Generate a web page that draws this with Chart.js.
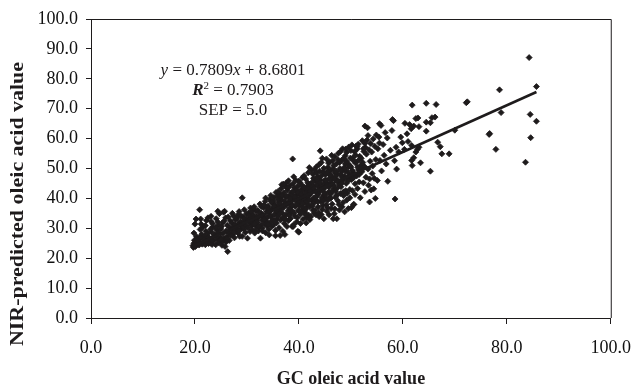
<!DOCTYPE html>
<html>
<head>
<meta charset="utf-8">
<script src="https://cdn.jsdelivr.net/npm/chart.js@4.4.1/dist/chart.umd.min.js"></script>
<style>
  html, body { margin: 0; padding: 0; background: #fff; }
  #wrap { width: 644px; height: 386px; position: relative; }
</style>
</head>
<body>
<div id="wrap"><canvas id="oleicChart"></canvas></div>
<script>
// Axis ticks
const xTicks = [0, 20, 40, 60, 80, 100];
const yTicks = [0, 10, 20, 30, 40, 50, 60, 70, 80, 90, 100];

// Regression line as printed on the chart
const trendSlope = 0.7809;
const trendIntercept = 8.6801;
const equationLines = ['y = 0.7809x + 8.6801', 'R2 = 0.7903', 'SEP = 5.0'];

const lowCluster = [
  [19.6,24.2],[19.8,25.0],[19.7,23.6],[20.0,24.6],[19.9,26.0],[20.2,25.3],[20.1,23.9],[19.8,28.4],[20.0,31.4],[20.2,33.1],[20.3,27.2],[20.4,24.9],
  [20.6,25.6],[20.8,24.4],[20.9,26.8],[21.0,25.1],[21.1,33.1],[20.9,36.2],[21.2,31.4],[21.3,28.0],[21.4,24.7],[21.0,29.6],[21.5,26.3],[21.4,30.2],
  [21.7,25.0],[21.9,27.4],[22.0,24.5],[22.1,29.0],[22.3,26.1],[22.2,32.6],[22.4,25.3],[22.5,28.3],[22.0,30.9],[22.6,24.9],[22.5,33.5],
  [22.8,26.7],[23.0,25.0],[23.1,34.0],[23.2,28.8],[23.3,24.6],[23.4,30.4],[23.5,27.1],[23.1,32.3],[23.6,25.8],[23.0,29.7],[23.4,31.5],
  [23.8,27.9],[24.0,24.5],[24.1,33.2],[24.2,29.5],[24.4,35.7],[24.3,26.3],[24.5,31.0],[24.6,25.2],[24.5,28.6],[24.0,30.3],[24.7,34.9],[24.4,32.1],
  [24.9,27.0],[25.0,29.8],[25.2,24.3],[25.3,31.8],[25.5,35.4],[25.4,28.3],[25.6,26.5],[25.7,35.7],[25.8,23.9],[25.9,33.5],[25.1,30.6],[25.6,32.4],[25.3,25.5],
  [26.0,29.1],[26.1,27.2],[26.2,31.0],[26.3,22.2],[26.4,33.8],[26.5,28.5],[26.6,25.9],[26.7,30.2],[26.8,32.5],[26.2,26.6],
  [27.0,29.5],[27.1,31.8],[27.3,27.9],[27.4,34.1],[27.5,30.6],[27.6,26.8],[27.8,32.9],[27.9,29.0],[27.2,35.0],[27.7,31.2],
  [28.0,30.0],[28.1,33.4],[28.3,28.4],[28.4,31.6],[28.5,35.6],[28.6,27.3],[28.8,32.3],[28.9,29.8],[28.2,34.4],[28.7,30.9],
  [29.0,31.2],[29.1,40.2],[29.1,27.3],[29.2,33.9],[29.4,29.7],[29.5,36.2],[29.6,32.5],[29.7,28.6],[29.9,34.8],[29.3,30.5],[29.8,31.0]
];

const midBand = [
  [30.0,33.0],[30.1,26.7],[30.2,30.2],[30.3,35.1],[30.5,31.8],[30.6,28.9],[30.7,36.8],[30.8,33.7],[30.9,30.9],[30.4,34.3],[30.9,32.2],
  [31.0,29.6],[31.1,34.6],[31.3,31.4],[31.4,37.2],[31.5,28.4],[31.6,33.0],[31.7,35.8],[31.8,30.6],[31.9,32.5],[31.2,36.4],[31.6,29.2],
  [32.0,31.9],[32.1,36.0],[32.2,29.1],[32.3,33.8],[32.5,38.1],[32.6,26.7],[32.7,31.0],[32.8,35.0],[32.9,32.7],[32.4,30.3],[32.8,37.3],
  [33.0,30.1],[33.1,34.2],[33.2,36.9],[33.4,31.6],[33.5,39.0],[33.6,28.5],[33.7,33.3],[33.8,35.6],[33.9,30.8],[33.3,37.8],[33.9,32.1],[33.6,40.1],
  [34.0,33.9],[34.1,37.5],[34.2,29.7],[34.3,35.3],[34.4,39.6],[34.5,32.0],[34.6,41.0],[34.7,36.2],[34.8,30.6],[34.9,38.4],[34.3,27.8],[34.6,34.1],[34.9,33.2],
  [35.0,36.6],[35.1,31.1],[35.2,40.3],[35.3,34.6],[35.4,38.0],[35.5,29.3],[35.6,42.0],[35.7,33.0],[35.8,37.1],[35.9,35.4],[35.1,39.2],[35.5,27.5],[35.7,31.8],[35.9,40.8],
  [36.0,34.0],[36.1,38.8],[36.2,30.2],[36.3,41.5],[36.4,36.3],[36.5,32.8],[36.6,43.3],[36.7,39.5],[36.7,44.6],[36.8,35.1],[36.9,29.0],[36.2,37.4],[36.5,40.6],[36.9,33.5],[36.4,27.6],
  [37.0,36.9],[37.1,41.9],[37.2,31.6],[37.3,39.0],[37.3,27.9],[37.4,44.0],[37.5,34.5],[37.6,45.2],[37.6,37.8],[37.7,30.6],[37.8,42.7],[37.9,35.9],[37.1,33.3],[37.5,40.4],[37.9,38.6],
  [38.0,32.6],[38.1,40.9],[38.2,36.7],[38.3,44.3],[38.4,34.9],[38.5,39.3],[38.6,42.0],[38.7,30.6],[38.8,53.2],[38.8,37.7],[38.9,45.0],[38.9,30.6],[38.2,38.5],[38.4,33.3],[38.6,41.3],[38.7,35.8],
  [39.0,39.8],[39.1,43.6],[39.2,34.1],[39.3,37.3],[39.4,46.1],[39.5,41.1],[39.6,32.2],[39.7,38.6],[39.8,29.0],[39.8,44.1],[39.9,36.0],[39.1,35.2],[39.3,40.5],[39.5,42.7],[39.7,33.6],[39.9,39.0],
  [40.0,28.7],[40.0,41.8],[40.1,37.6],[40.2,45.3],[40.3,34.7],[40.4,39.7],[40.5,43.0],[40.6,36.2],[40.7,47.0],[40.8,33.0],[40.9,40.8],[40.2,38.9],[40.4,42.2],[40.6,44.4],[40.8,37.0],[40.9,35.5],[40.3,31.6],
  [41.0,38.6],[41.1,42.9],[41.2,35.3],[41.3,46.5],[41.4,40.2],[41.5,33.6],[41.6,44.0],[41.7,37.5],[41.8,48.6],[41.9,41.4],[41.1,39.6],[41.3,36.4],[41.5,42.1],[41.7,45.2],[41.9,34.4],[41.4,31.8],[41.6,38.1],
  [42.0,41.0],[42.1,37.2],[42.2,44.8],[42.3,33.9],[42.4,49.5],[42.5,39.4],[42.6,42.6],[42.7,36.0],[42.8,46.7],[42.9,40.1],[42.1,32.9],[42.3,43.7],[42.5,38.0],[42.7,48.1],[42.9,35.0],[42.4,41.8],[42.8,44.0],
  [43.0,38.7],[43.1,45.7],[43.2,42.3],[43.3,34.5],[43.4,50.6],[43.5,40.8],[43.6,47.3],[43.7,37.1],[43.8,43.9],[43.9,51.3],[43.1,36.0],[43.3,39.4],[43.5,44.6],[43.7,41.5],[43.9,33.9],[43.4,48.6],[43.8,35.2]
];

const upperBand = [
  [44.0,42.4],[44.1,55.9],[44.1,46.2],[44.2,39.0],[44.3,52.0],[44.4,44.3],[44.5,36.3],[44.6,48.8],[44.7,41.0],[44.8,33.2],[44.9,46.0],[44.2,43.1],[44.4,40.1],[44.6,37.6],[44.8,50.1],[44.3,34.6],[44.9,44.9],[44.0,49.1],
  [45.0,43.6],[45.1,47.9],[45.2,39.9],[45.3,53.2],[45.4,45.1],[45.5,36.9],[45.6,50.4],[45.7,42.1],[45.8,34.5],[45.9,48.0],[45.1,41.2],[45.3,37.9],[45.5,44.4],[45.7,51.8],[45.9,40.5],[45.4,35.7],[45.8,46.6],
  [46.0,45.0],[46.1,49.3],[46.2,41.6],[46.3,54.4],[46.4,38.1],[46.5,47.0],[46.6,33.2],[46.7,51.0],[46.8,43.4],[46.9,36.5],[46.1,40.0],[46.3,46.2],[46.5,52.6],[46.7,44.3],[46.9,48.6],[46.4,42.5],[46.8,34.9],
  [47.0,46.4],[47.1,42.3],[47.2,51.5],[47.3,33.2],[47.4,48.2],[47.5,39.2],[47.6,55.1],[47.7,44.8],[47.8,36.1],[47.9,50.0],[47.1,47.3],[47.3,41.0],[47.5,53.0],[47.7,38.0],[47.9,45.6],[47.4,43.5],
  [48.0,48.0],[48.1,43.9],[48.2,52.7],[48.3,37.2],[48.4,56.6],[48.5,46.1],[48.6,40.9],[48.7,50.3],[48.8,35.5],[48.9,54.3],[48.2,45.0],[48.4,49.2],[48.6,42.2],[48.8,47.5],[48.9,51.6],[48.5,38.6],
  [49.0,49.2],[49.1,45.0],[49.2,55.4],[49.3,41.7],[49.4,51.7],[49.5,36.6],[49.6,57.2],[49.7,47.6],[49.8,43.0],[49.9,53.5],[49.2,39.4],[49.4,46.5],[49.6,50.6],[49.8,40.2],[49.5,48.7],
  [50.0,50.5],[50.1,46.3],[50.2,57.9],[50.3,42.6],[50.4,53.6],[50.5,38.0],[50.6,48.4],[50.7,55.6],[50.8,44.9],[50.9,51.8],[50.1,36.9],[50.6,38.0],[50.3,49.3],[50.8,41.3],[50.5,46.9],
  [51.0,52.2],[51.1,47.5],[51.2,56.5],[51.3,43.3],[51.4,58.1],[51.5,49.6],[51.6,45.5],[51.7,54.1],[51.8,40.2],[51.9,51.0],[51.2,57.3],[51.6,48.0],
  [52.0,53.4],[52.1,48.9],[52.2,59.3],[52.4,45.2],[52.5,55.7],[52.6,50.7],[52.7,42.3],[52.8,57.0],[52.9,47.1],[52.3,52.0],[52.7,58.4],[52.7,64.2],
  [53.0,54.8],[53.1,59.5],[53.2,63.6],[53.3,49.8],[53.4,44.4],[53.5,56.3],[53.6,38.8],[53.7,52.4],[53.8,58.4],[53.9,42.8],[53.3,61.0],[53.6,46.5],
  [54.0,55.5],[54.2,50.8],[54.3,59.9],[54.5,46.7],[54.6,57.4],[54.8,53.0],[54.9,61.2],[54.4,43.2],[54.7,40.0],[54.1,48.3],
  [55.1,46.0],[55.2,56.6],[55.4,60.5],[55.5,65.0],[55.6,52.7],[55.8,64.4],[55.9,49.2],[55.5,58.5]
];

// extra points where the cloud is solid black
const coreFill = [
  [30.3,32.6],[30.8,35.6],[31.4,33.7],[31.9,34.0],[32.4,35.2],[32.9,34.4],[33.3,33.0],[33.8,37.0],[34.2,36.4],[34.7,38.9],
  [35.2,37.2],[35.6,35.9],[36.0,39.7],[36.4,38.2],[36.8,41.0],[37.2,37.9],[37.6,40.8],[37.9,43.6],[38.3,39.8],[38.6,37.6],
  [38.9,42.2],[39.2,40.4],[39.5,38.0],[39.9,42.0],[40.2,40.3],[40.5,41.4],[40.7,38.4],[41.0,43.7],[41.2,41.6],[41.5,39.0],
  [41.8,43.2],[42.0,39.5],[42.2,42.3],[42.6,45.5],[42.9,43.2],[43.2,40.5],[43.5,46.4],[43.8,42.7],[44.0,45.3],[44.3,47.5],
  [44.6,43.0],[44.9,41.9],[45.2,46.1],[45.5,49.0],[45.8,43.8],[46.0,47.8],[46.3,44.9],[46.6,50.0],[46.9,46.4],[47.2,49.0],
  [47.5,45.9],[47.8,52.0],[48.0,49.6],[48.3,47.0],[48.6,53.4],[48.9,49.9],[49.2,52.4],[49.5,45.8],[49.8,51.0],[50.2,48.0],
  [50.5,52.6],[50.9,54.5],[51.3,50.4],[51.6,52.9],[52.0,50.0],[52.4,56.6],[40.1,35.6],[41.3,34.5],[42.6,37.5],[43.6,38.8],
  [44.7,39.2],[45.6,39.5],[46.2,36.6],[47.0,40.4],[48.0,41.6],[49.0,42.6],[36.3,34.9],[37.4,33.0],[38.1,34.3],[39.0,31.2],
  [35.3,32.3],[34.0,31.3],[33.0,29.1],[32.2,30.7],[31.5,31.5],[29.5,33.3],[28.8,34.2],[28.4,29.3],[27.5,28.6],[26.9,27.6],
  [26.0,25.4],[25.0,26.2],[24.2,27.2],[23.3,26.0],[22.6,27.0],[21.8,26.2],[21.0,26.9],[20.5,26.0],[36.0,42.3],[37.0,44.8],
  [38.0,45.9],[39.0,47.2],[40.0,45.8],[41.0,47.6],[42.0,50.3],[43.0,49.7],[44.5,53.4],[45.9,52.2],[46.9,54.0],[48.0,55.7],
  [49.0,56.5],[50.0,56.0],[51.0,57.5]
];

const sparseTail = [
  [56.2,58.0],[56.4,54.4],[56.8,51.5],[57.0,60.2],[57.1,45.7],[56.6,62.0],[57.6,56.1],
  [57.9,62.7],[58.0,66.4],[58.2,66.0],[58.5,39.8],[58.7,57.1],[58.8,49.8],[58.4,52.6],[59.2,55.5],[59.6,60.5],[59.9,58.6],
  [60.3,56.4],[60.4,65.1],[60.8,61.6],[61.0,59.0],[61.3,64.7],[61.6,63.3],[61.7,57.7],[61.7,52.7],[61.8,51.0],[61.8,71.2],
  [62.1,64.2],[62.1,53.6],[62.5,66.7],[62.5,55.5],[62.8,56.4],[62.9,66.9],[63.1,57.1],[63.1,64.0],[63.4,51.9],
  [64.5,71.8],[64.5,65.5],[64.5,62.5],[65.3,65.3],[65.3,49.1],[65.6,67.0],[66.2,67.2],[66.4,71.4],[66.7,58.8],[67.2,57.3],[67.5,54.9],[68.9,54.9],
  [70.0,62.8],[72.2,72.0],[72.4,72.3],[76.6,61.4],[76.7,61.7],[77.9,56.4],[78.6,76.3],[78.9,68.7],
  [83.6,52.1],[84.3,87.1],[84.5,68.1],[84.6,60.3],[85.7,77.4],[85.7,65.8]
];

const allPoints = lowCluster.concat(midBand, upperBand, coreFill, sparseTail).map(p => ({ x: p[0], y: p[1] }));
const gcMin = Math.min(...allPoints.map(p => p.x));
const gcMax = Math.max(...allPoints.map(p => p.x));
const trendPoints = [gcMin, gcMax].map(x => ({ x: x, y: trendSlope * x + trendIntercept }));

const ink = '#1e1b1c';
const serif = '"Liberation Serif", "Times New Roman", serif';

// titles, frame and equation drawn on the canvas
const decorPlugin = {
  id: 'decor',
  afterDraw(chart) {
    const ctx = chart.ctx;
    const a = chart.chartArea;
    ctx.save();
    ctx.strokeStyle = ink;
    ctx.lineWidth = 1;
    ctx.beginPath();
    ctx.moveTo(a.left, a.top + 0.5);
    ctx.lineTo(a.right + 0.5, a.top + 0.5);
    ctx.lineTo(a.right + 0.5, a.bottom);
    ctx.stroke();

    ctx.fillStyle = ink;
    ctx.textBaseline = 'middle';
    ctx.textAlign = 'center';
    ctx.font = 'bold 18px ' + serif;
    ctx.fillText('GC oleic acid value', (a.left + a.right) / 2, 379);

    // y title, stretched along its length like the original
    const yTitle = 'NIR-predicted oleic acid value';
    const w = ctx.measureText(yTitle).width;
    ctx.save();
    ctx.translate(18, 204);
    ctx.rotate(-Math.PI / 2);
    ctx.scale(284 / w, 1);
    ctx.fillText(yTitle, 0, 0);
    ctx.restore();

    // equation block
    const cx = 233;
    const runs = [
      [[equationLines[0].slice(0, 1), 'italic '], [equationLines[0].slice(1, 10), ''], [equationLines[0].slice(10, 11), 'italic '], [equationLines[0].slice(11), '']],
      [[equationLines[1].slice(0, 1), 'bold italic '], [equationLines[1].slice(1, 2), 'sup'], [equationLines[1].slice(2), '']],
      [[equationLines[2], '']]
    ];
    const lineY = [71, 91, 111];
    ctx.textAlign = 'left';
    runs.forEach((line, i) => {
      const fontFor = s => s === 'sup' ? '11px ' + serif : s + '17px ' + serif;
      let total = 0;
      line.forEach(r => { ctx.font = fontFor(r[1]); total += ctx.measureText(r[0]).width; });
      let x = cx - total / 2;
      line.forEach(r => {
        ctx.font = fontFor(r[1]);
        ctx.fillText(r[0], x, r[1] === 'sup' ? lineY[i] - 5 : lineY[i]);
        x += ctx.measureText(r[0]).width;
      });
    });
    ctx.restore();
  }
};

const ctx = document.getElementById('oleicChart').getContext('2d');
const oleicChart = new Chart(ctx, {
  type: 'scatter',
  data: {
    datasets: [{
      type: 'line',
      label: 'Trend',
      data: trendPoints,
      borderColor: ink,
      borderWidth: 2.6,
      pointRadius: 0,
      fill: false,
      order: 0
    }, {
      label: 'Samples',
      data: allPoints,
      pointStyle: 'rectRot',
      pointRadius: 3,
      pointBorderWidth: 0.8,
      backgroundColor: ink,
      borderColor: ink,
      order: 1
    }]
  },
  options: {
    responsive: true,
    maintainAspectRatio: false,
    animation: false,
    layout: { padding: { left: 0, right: 23, top: 19, bottom: 0 } },
    plugins: { legend: { display: false }, tooltip: { enabled: false } },
    scales: {
      x: {
        type: 'linear',
        min: 0,
        max: 100,
        afterFit: s => { s.height = 68; },
        afterBuildTicks: s => { s.ticks = xTicks.map(v => ({ value: v })); },
        border: { display: true, color: ink, width: 1 },
        grid: { drawOnChartArea: false, drawTicks: true, tickLength: 6, color: ink },
        ticks: {
          padding: 13,
          color: '#111',
          font: { family: serif, size: 18 },
          callback: v => v.toFixed(1)
        }
      },
      y: {
        type: 'linear',
        min: 0,
        max: 100,
        afterFit: s => { s.width = 91; },
        afterBuildTicks: s => { s.ticks = yTicks.map(v => ({ value: v })); },
        border: { display: true, color: ink, width: 1 },
        grid: { drawOnChartArea: false, drawTicks: true, tickLength: 5, color: ink },
        ticks: {
          padding: 8,
          color: '#111',
          font: { family: serif, size: 18 },
          callback: v => v.toFixed(1)
        }
      }
    }
  },
  plugins: [decorPlugin]
});
</script>
</body>
</html>
